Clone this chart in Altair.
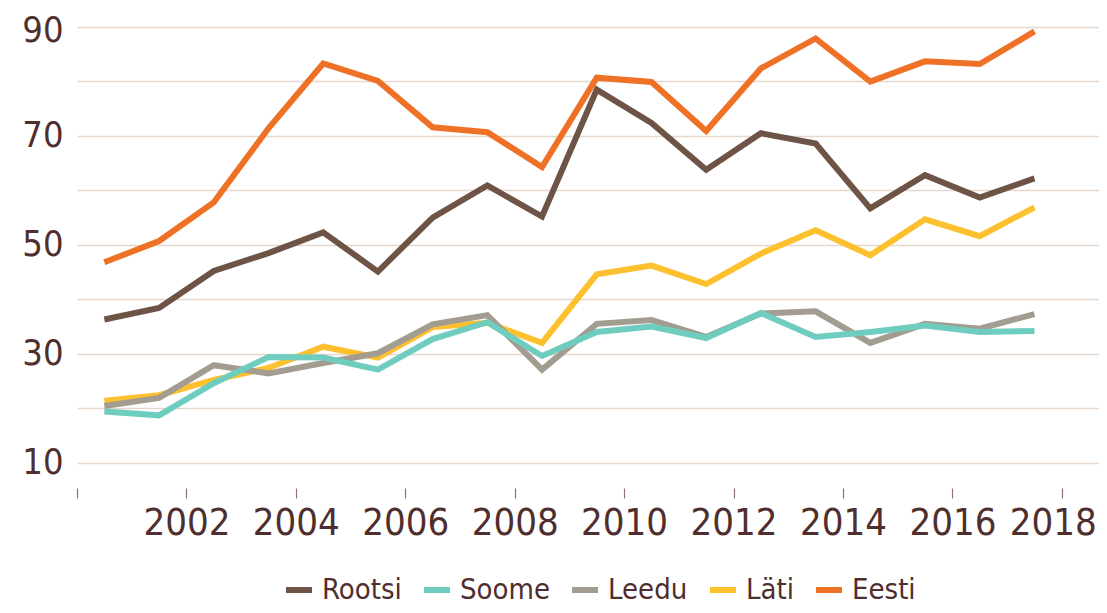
import altair as alt
import pandas as pd

years = list(range(2000, 2018))
series_names = ["Rootsi", "Soome", "Leedu", "Läti", "Eesti"]
series_colors = ["#6e5446", "#6fcdbf", "#a39c90", "#fdc02f", "#ee7125"]

rootsi = [36.3, 38.4, 45.2, 48.5, 52.3, 45.1, 55.0, 60.9, 55.2, 78.5, 72.4, 63.8, 70.5, 68.6, 56.7, 62.8, 58.7, 62.2]
soome = [19.4, 18.7, 24.6, 29.4, 29.3, 27.1, 32.7, 35.8, 29.6, 34.0, 35.0, 32.9, 37.5, 33.1, 34.0, 35.2, 34.0, 34.2]
leedu = [20.4, 21.9, 27.9, 26.4, 28.3, 30.1, 35.4, 37.1, 27.1, 35.5, 36.2, 33.1, 37.4, 37.8, 32.0, 35.5, 34.6, 37.3]
lati = [21.4, 22.4, 25.2, 27.4, 31.3, 29.3, 34.9, 35.7, 32.0, 44.6, 46.2, 42.8, 48.4, 52.7, 48.1, 54.7, 51.6, 56.9]
eesti = [46.8, 50.7, 57.8, 71.4, 83.3, 80.1, 71.6, 70.7, 64.3, 80.7, 79.9, 70.9, 82.4, 87.9, 80.0, 83.7, 83.2, 89.2]

values_by_series = {"Rootsi": rootsi, "Soome": soome, "Leedu": leedu, "Läti": lati, "Eesti": eesti}
draw_order = ["Läti", "Leedu", "Soome", "Rootsi", "Eesti"]

rows = []
for name in series_names:
    for y, v in zip(years, values_by_series[name]):
        rows.append({"year": y, "value": v, "riik": name})
df = pd.DataFrame(rows)

FONT = "DejaVu Sans Condensed"
TEXT = "#4f2e2e"

x_ticks = list(range(2000, 2019, 2))
y_grid = list(range(10, 100, 10))

color = alt.Color(
    "riik:N",
    scale=alt.Scale(domain=series_names, range=series_colors),
    legend=alt.Legend(
        title=None,
        orient="none",
        direction="horizontal",
        legendX=206,
        legendY=554,
        symbolType="stroke",
        symbolStrokeWidth=6,
        symbolSize=676,
        labelFontSize=29,
        labelFont=FONT,
        labelColor=TEXT,
        labelOffset=7,
        columnPadding=10,
        symbolOpacity=1,
    ),
)

base = alt.Chart(df).transform_calculate(xpos="datum.year + 0.5").mark_line(
    strokeWidth=6, strokeCap="butt", strokeJoin="miter"
).encode(
    x=alt.X(
        "xpos:Q",
        scale=alt.Scale(domain=[2000, 2018.68], nice=False, zero=False),
        axis=alt.Axis(
            title=None,
            values=x_ticks,
            format="d",
            labelExpr="datum.value == 2000 ? '' : datum.label",
            grid=False,
            domain=False,
            ticks=True,
            tickSize=10,
            tickColor="#8c7474",
            tickWidth=1.2,
            labelFontSize=38,
            labelFont=FONT,
            labelColor=TEXT,
            labelPadding=6,
            labelFlush=False,
            labelOverlap=False,
            labelOffset={"condition": {"test": "datum.value == 2018", "value": -9}, "value": 0},
        ),
    ),
    y=alt.Y(
        "value:Q",
        scale=alt.Scale(domain=[5.36, 91.29], nice=False, zero=False),
        axis=alt.Axis(
            title=None,
            values=y_grid,
            labelExpr="datum.value % 20 == 10 ? datum.label : ''",
            grid=True,
            gridColor="#e6d8cc",
            gridWidth=1.5,
            domain=False,
            ticks=False,
            labelFontSize=36,
            labelFont=FONT,
            labelColor=TEXT,
            labelPadding=14,
            labelOffset={"condition": {"test": "datum.value == 90", "value": 3}, "value": 0},
        ),
    ),
    color=color,
)

layers = [base.transform_filter(alt.datum.riik == name) for name in draw_order]

chart = alt.layer(*layers).properties(
    width=1022,
    height=468,
    background="white",
    autosize=alt.AutoSizeParams(type="none"),
    padding={"left": 69, "top": 12, "right": 0, "bottom": 117},
).configure_view(stroke=None, strokeWidth=0)

chart.save("out.html", embed_options={"renderer": "svg", "actions": False})
